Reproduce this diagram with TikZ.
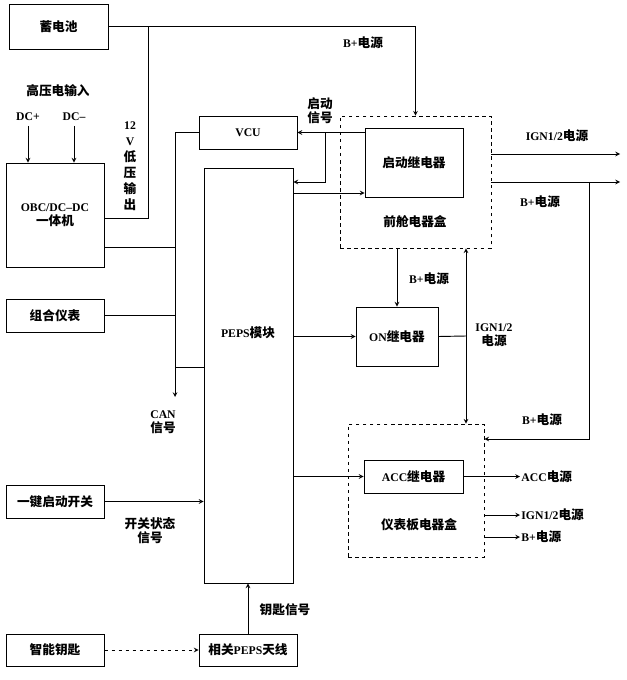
\documentclass[tikz,border=0pt]{standalone}
\usepackage{fontspec}
\setmainfont{Liberation Serif}
\newfontfamily\cjk{Noto Sans CJK SC}[Scale=1.08]
\newcommand\zh[1]{{\cjk #1}}
\usetikzlibrary{arrows, fit}

\tikzset{
	txt/.style={font=\fontsize{10}{12}\selectfont\bfseries, align=center, inner sep=1pt},
	blk/.style={draw, line width=0.8pt, inner sep=0pt},
	dbox/.style={draw, dashed, line width=0.6pt, inner sep=0pt},
	caption/.style={label={[txt]center:#1}},
	line/.style={line width=0.8pt},
	arr/.style={line, -stealth},
	note/.style={txt, anchor=west},
}

\begin{document}
\begin{tikzpicture}[x=0.03cm, y=-0.03cm]
	\useasboundingbox (0,0) rectangle (627,680);
	% left column
	\node[blk, fit={(9,4) (108,49)}, caption={\zh{蓄电池}}] (bat) {};
	\node[blk, fit={(6,163) (104,267)}, caption={OBC/DC--DC\\\zh{一体机}}] (obc) {};
	\node[blk, fit={(6,299) (104,332)}, caption={\zh{组合仪表}}] (ic) {};
	\node[blk, fit={(6,485) (104,518)}, caption={\zh{一键启动开关}}] (ssb) {};
	\node[blk, fit={(6,634) (104,666)}, caption={\zh{智能钥匙}}] (key) {};
	% middle column
	\node[blk, fit={(199,116) (297,149)}, caption={VCU}] (vcu) {};
	\node[blk, fit={(204,168) (293,583)}] (peps) {};
	\node[txt] (pepsname) at (248,333) {PEPS\zh{模块}};
	\node[blk, fit={(199,634) (297,666)}, caption={\zh{相关}PEPS\zh{天线}}] (ant) {};
	% relays and boxes
	\node[dbox, fit={(340,116) (491,248)}] (front) {};
	\node[blk, fit={(365,128) (463,197)}, caption={\zh{启动继电器}}] (start) {};
	\node[txt] (frontname) at (415,222) {\zh{前舱电器盒}};
	\node[blk, fit={(356,307) (438,366)}, caption={ON\zh{继电器}}] (on) {};
	\node[dbox, fit={(348,424) (484,557)}] (dash) {};
	\node[blk, fit={(364,460) (463,493)}, caption={ACC\zh{继电器}}] (acc) {};
	\node[txt] (dashname) at (419,525) {\zh{仪表板电器盒}};

	% labels
	\node[txt] (hv) at (58,91) {\zh{高压电输入}};
	\node[txt] (dcp) at (28,117) {DC+};
	\node[txt] (dcm) at (74,117) {DC--};
	\node[txt, font=\fontsize{10}{13.6}\selectfont\bfseries] (lv) at (130,166) {12\\V\\\zh{低}\\\zh{压}\\\zh{输}\\\zh{出}};
	\node[txt] (can) at (163,422) {CAN\\\zh{信号}};
	\node[txt] (sw) at (150,531) {\zh{开关状态}\\\zh{信号}};
	\node[txt] (keysig) at (285,610) {\zh{钥匙信号}};
	\node[txt] (startsig) at (320,111) {\zh{启动}\\\zh{信号}};
	\node[txt] (bp1) at (363,43) {B+\zh{电源}};
	\node[txt] (bp2) at (429,279) {B+\zh{电源}};
	\node[txt] (bp3) at (540,202) {B+\zh{电源}};
	\node[txt] (bp4) at (542,420) {B+\zh{电源}};
	\node[txt] (ign1) at (557,136) {IGN1/2\zh{电源}};
	\node[txt] (ign2) at (494,335) {IGN1/2\\\zh{电源}};
	\node[note] (accout) at (520,477) {ACC\zh{电源}};
	\node[note] (ign3) at (520,515) {IGN1/2\zh{电源}};
	\node[note] (bp5) at (520,537) {B+\zh{电源}};

	% named points
	\coordinate (bj) at (148,26.5);
	\coordinate (canend) at (175,397);
	\coordinate (sj) at (325,132.5);
	\coordinate (bpj) at (589,182);
	\coordinate (ignend) at (620,154);
	\coordinate (bpend) at (620,182);
	\coordinate (bus) at (466,336);

	% power
	\draw[arr] (bat.east) -| (front.north);
	\draw[line] (obc.east |- 0,218) -| (bj);
	\draw[arr, shorten <=3pt] (dcp.south) -- (dcp.south |- obc.north);
	\draw[arr, shorten <=3pt] (dcm.south) -- (dcm.south |- obc.north);
	% CAN
	\draw[arr] (vcu.west) -| (canend);
	\draw[line] (obc.east |- 0,247) -- (canend |- 0,247);
	\draw[line] (ic.east) -- (ic.east -| canend);
	\draw[line] (peps.west |- 0,367) -- (canend |- 0,367);
	% start signal
	\draw[arr] (start.west |- vcu.east) -- (vcu.east);
	\draw[arr] (sj) |- (peps.east |- 0,182);
	\draw[arr] (peps.east |- 0,193) -- (start.west |- 0,193);
	% front box outputs
	\draw[arr] (front.east |- ignend) -- (ignend);
	\draw[arr] (front.east |- bpend) -- (bpend);
	\draw[arr] (bpj) |- (dash.east |- 0,439);
	\draw[arr] (front.south -| on.north) -- (on.north);
	\draw[arr] (peps.east |- on.west) -- (on.west);
	\draw[line, stealth-stealth] (front.south -| bus) -- (dash.north -| bus);
	\draw[line] (on.east) -- (bus);
	% dash box
	\draw[arr] (peps.east |- acc.west) -- (acc.west);
	\draw[arr] (acc.east) -- (acc.east -| accout.west);
	\draw[arr] (dash.east |- ign3.west) -- (ign3.west);
	\draw[arr] (dash.east |- bp5.west) -- (bp5.west);
	% inputs to PEPS
	\draw[arr] (ssb.east) -- (peps.west |- ssb.east);
	\draw[arr, dashed] (key.east) -- (ant.west);
	\draw[arr] (ant.north) -- (ant.north |- peps.south);
\end{tikzpicture}
\end{document}
